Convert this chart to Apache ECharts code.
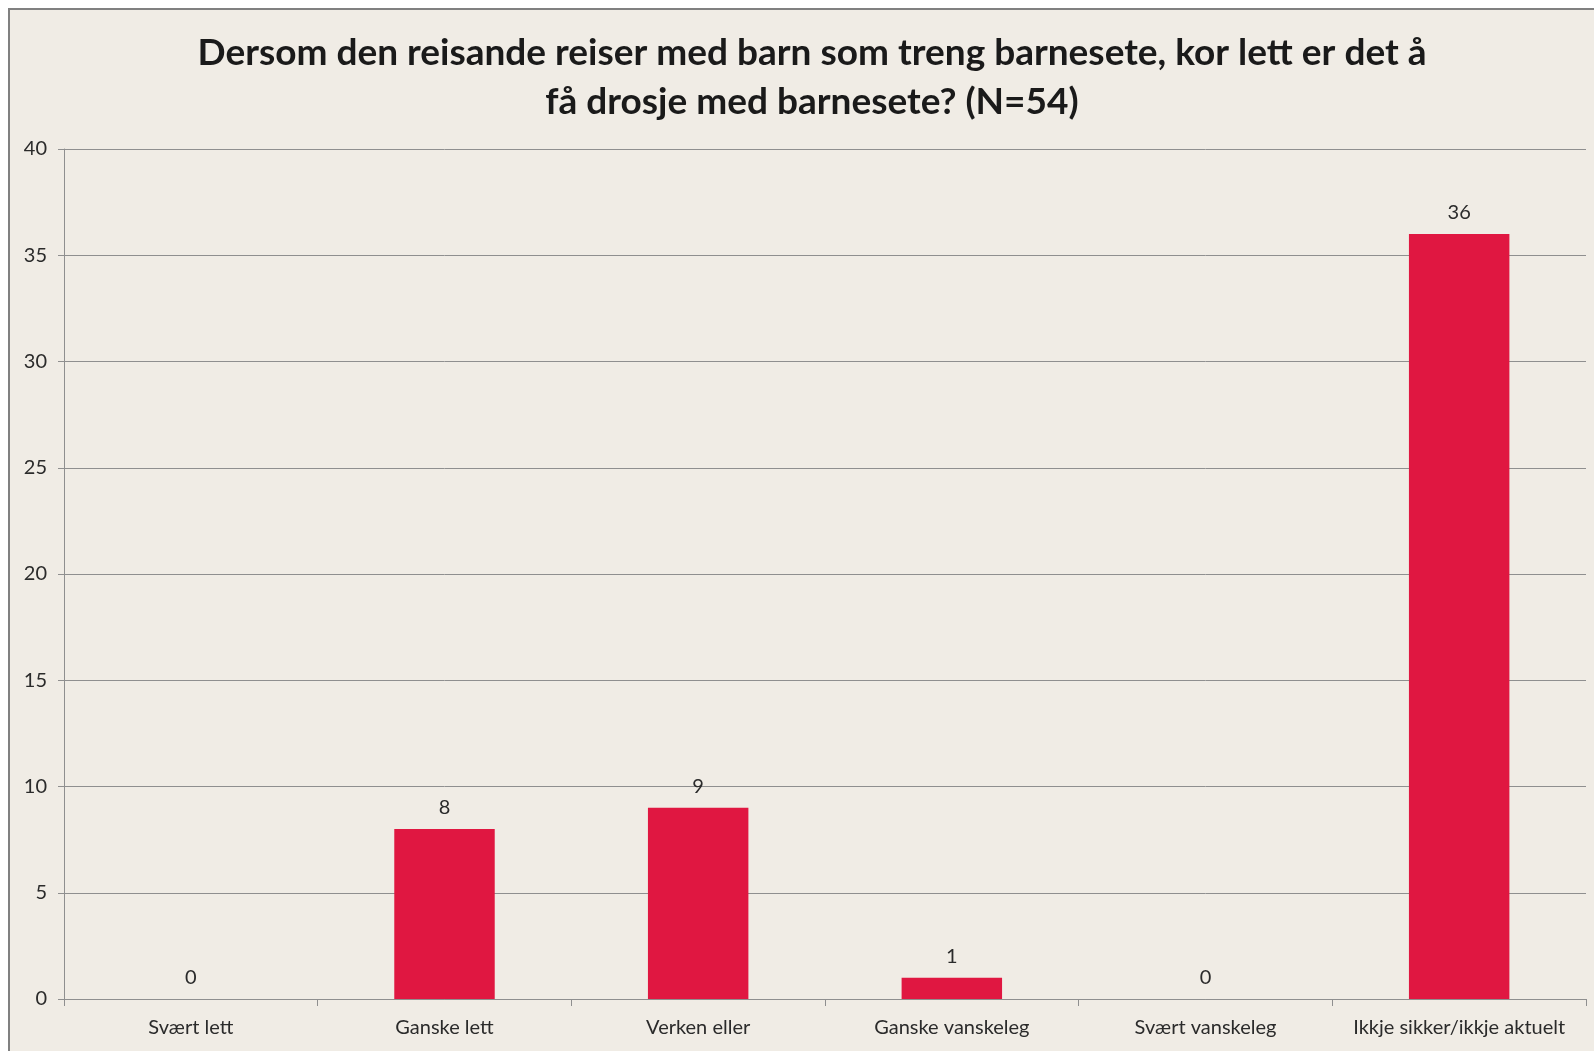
<!DOCTYPE html>
<html>
<head>
<meta charset="utf-8">
<script src="https://cdn.jsdelivr.net/npm/echarts@6/dist/echarts.min.js"></script>
<style>
  html, body { margin: 0; padding: 0; background: #ffffff; }
  #chart { width: 1594px; height: 1051px; }
</style>
</head>
<body>
<div id="chart"></div>
<script>
// data
const categories = [
  "Svært lett",
  "Ganske lett",
  "Verken eller",
  "Ganske vanskeleg",
  "Svært vanskeleg",
  "Ikkje sikker/ikkje aktuelt",
]
const counts = [0, 8, 9, 1, 0, 36]
const titleLines = [
  "Dersom den reisande reiser med barn som treng barnesete, kor lett er det å",
  "få drosje med barnesete? (N=54)",
]

const chart = echarts.init(document.getElementById("chart"))

const axisFont = "Lato, 'Open Sans', sans-serif"
const gridColor = "#8f8f8f"

chart.setOption({
  animation: false,
  backgroundColor: "#ffffff",
  graphic: [
    {
      type: "rect",
      z: -10,
      silent: true,
      shape: { x: 9, y: 9, width: 1600, height: 1060 },
      style: { fill: "#f0ece5", stroke: "#808080", lineWidth: 2 },
    },
  ],
  title: {
    text: titleLines.join("\n"),
    left: 807,
    top: 24,
    textAlign: "center",
    textStyle: {
      fontFamily: axisFont,
      fontWeight: "bold",
      fontSize: 37,
      lineHeight: 49,
      color: "#1a1a1a",
    },
  },
  grid: {
    left: 64,
    right: 8,
    top: 149,
    bottom: 52,
    containLabel: false,
  },
  xAxis: {
    type: "category",
    data: categories,
    axisLine: { lineStyle: { color: gridColor, width: 1 } },
    axisTick: { show: true, length: 7, lineStyle: { color: gridColor } },
    axisLabel: {
      margin: 19,
      fontFamily: axisFont,
      fontSize: 20,
      color: "#2b2b2b",
      interval: 0,
    },
  },
  yAxis: {
    type: "value",
    min: 0,
    max: 40,
    interval: 5,
    axisLine: { show: true, lineStyle: { color: gridColor, width: 1 } },
    axisTick: { show: true, length: 6, lineStyle: { color: gridColor } },
    splitLine: { lineStyle: { color: gridColor, width: 1 } },
    axisLabel: {
      margin: 17,
      fontFamily: axisFont,
      fontSize: 20,
      color: "#2b2b2b",
    },
  },
  series: [
    {
      type: "bar",
      data: counts,
      barWidth: "39.6%",
      itemStyle: { color: "#e01741" },
      label: {
        show: true,
        position: "top",
        distance: 11,
        fontFamily: axisFont,
        fontSize: 20,
        color: "#2b2b2b",
      },
    },
  ],
})
</script>
</body>
</html>
